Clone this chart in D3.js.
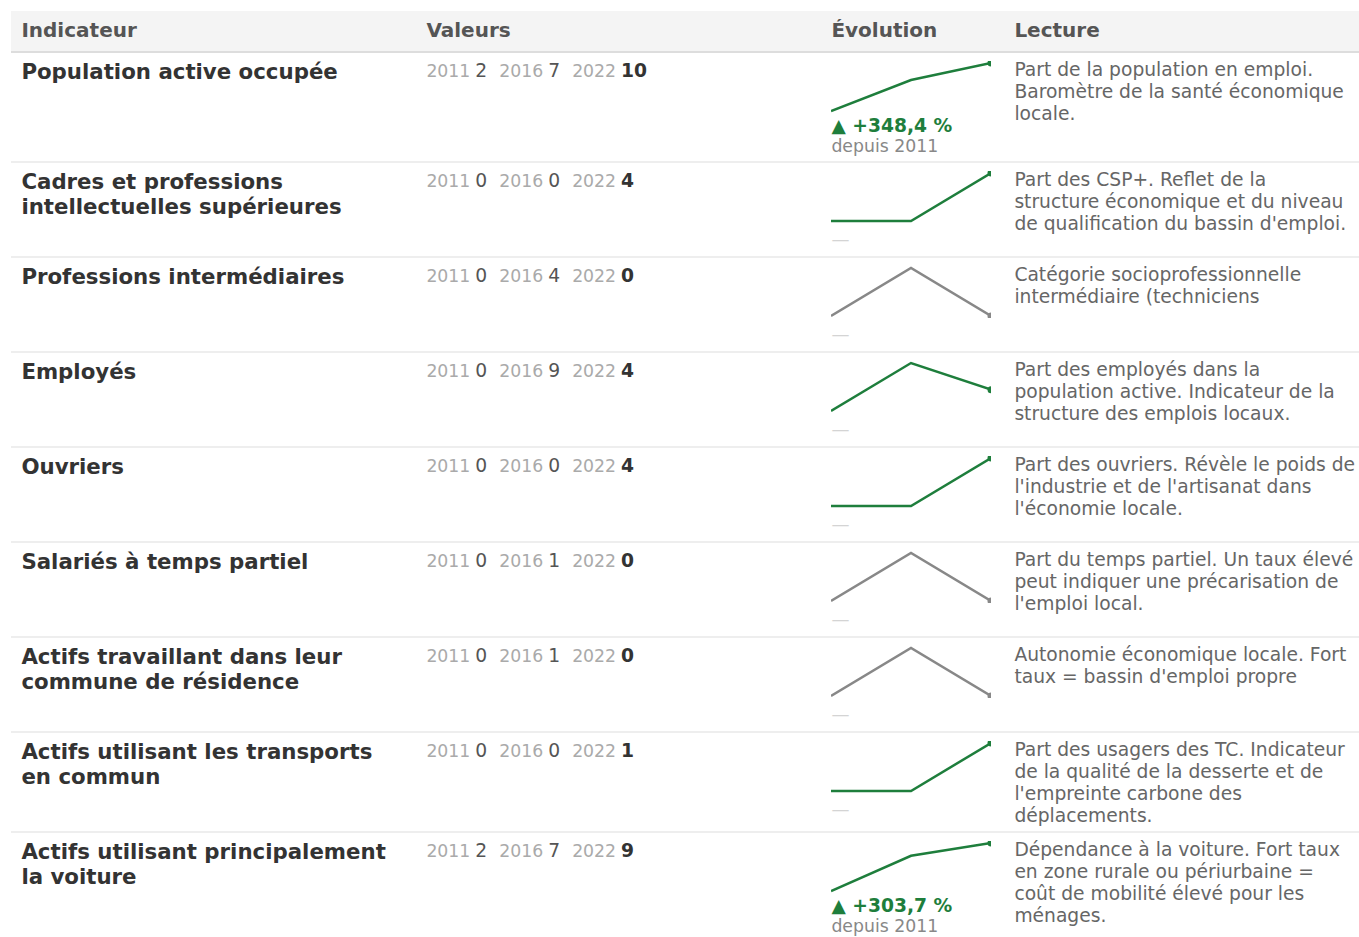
<!DOCTYPE html>
<html lang="fr">
<head>
<meta charset="utf-8">
<script src="https://cdn.jsdelivr.net/npm/d3@7"></script>
<style>
  body { margin: 10.7px 0 0 10.7px; font-family: "DejaVu Sans", sans-serif; background: #fff; overflow: hidden; }
  table { border-collapse: collapse; table-layout: fixed; width: 1356px; }
  th { background: #f4f4f4; color: #555; font-size: 20px; font-weight: bold; text-align: left;
       padding: 7px 10.7px 9px 10.7px; line-height: 24px; border-bottom: 2px solid #ddd; }
  td { vertical-align: top; padding: 8px 10.7px; border-bottom: 2px solid #eee; }
  td.ind { font-size: 21.3px; font-weight: bold; color: #333; line-height: 25px; padding-top: 6px; }
  td.vals { line-height: 25px; white-space: nowrap; padding-top: 5px; }
  .yr { font-size: 17.3px; color: #aaa; margin-right: 5px; }
  .v { font-size: 18.7px; color: #555; margin-right: 12px; }
  .v.last { font-weight: bold; color: #333; }
  td.evo { padding-bottom: 5px; }
  td.evo svg { display: block; }
  .pct { font-size: 18.7px; font-weight: bold; line-height: 20px; margin-top: 3px; }
  .since { font-size: 17.3px; color: #888; line-height: 20px; }
  .dash { font-size: 18px; color: #d4d4d4; line-height: 25px; height: 28px; padding-top: 3px; box-sizing: border-box; }
  td.lect { font-size: 18.7px; color: #666; line-height: 22px; padding-top: 6px; padding-bottom: 4px; }
</style>
</head>
<body>
<table id="tbl"></table>
<script>
const years = ["2011", "2016", "2022"];
const columns = ["Indicateur", "Valeurs", "Évolution", "Lecture"];
const colWidths = [405, 405, 183, 363];

const indicators = [
  "Population active occupée",
  "Cadres et professions intellectuelles supérieures",
  "Professions intermédiaires",
  "Employés",
  "Ouvriers",
  "Salariés à temps partiel",
  "Actifs travaillant dans leur commune de résidence",
  "Actifs utilisant les transports en commun",
  "Actifs utilisant principalement la voiture"
];
const values2011 = [2.2, 0, 0, 0, 0, 0, 0, 0, 2.2];
const values2016 = [7.15, 0, 4, 9, 0, 1, 1, 0, 7.1];
const values2022 = [9.865, 4, 0, 4, 4, 0, 0, 1, 8.881];
const readings = [
  "Part de la population en emploi. Baromètre de la santé économique locale.",
  "Part des CSP+. Reflet de la structure économique et du niveau de qualification du bassin d'emploi.",
  "Catégorie socioprofessionnelle intermédiaire (techniciens",
  "Part des employés dans la population active. Indicateur de la structure des emplois locaux.",
  "Part des ouvriers. Révèle le poids de l'industrie et de l'artisanat dans l'économie locale.",
  "Part du temps partiel. Un taux élevé peut indiquer une précarisation de l'emploi local.",
  "Autonomie économique locale. Fort taux = bassin d'emploi propre",
  "Part des usagers des TC. Indicateur de la qualité de la desserte et de l'empreinte carbone des déplacements.",
  "Dépendance à la voiture. Fort taux en zone rurale ou périurbaine = coût de mobilité élevé pour les ménages."
];

const rows = indicators.map((name, i) => ({
  name: name,
  vals: [values2011[i], values2016[i], values2022[i]],
  text: readings[i]
}));

const fr = d3.formatLocale({ decimal: ",", thousands: "\u00a0", grouping: [3], currency: ["", " €"] });
const fmtPct = fr.format(".1f");

const green = "#1e7e3c", gray = "#888", red = "#c0392b";
const sparkW = 160, sparkH = 52;

const table = d3.select("#tbl");
table.append("colgroup").selectAll("col").data(colWidths).enter().append("col")
  .attr("width", d => d);
table.append("thead").append("tr").selectAll("th").data(columns).enter().append("th")
  .text(d => d);

const tr = table.append("tbody").selectAll("tr").data(rows).enter().append("tr");

tr.append("td").attr("class", "ind").text(d => d.name);

// values
const vals = tr.append("td").attr("class", "vals");
vals.each(function (d) {
  const cell = d3.select(this);
  d.vals.forEach((v, k) => {
    cell.append("span").attr("class", "yr").text(years[k]);
    cell.append("span").attr("class", k === 2 ? "v last" : "v").text(Math.round(v));
  });
});

// sparklines
const x = d3.scalePoint().domain(years).range([0, sparkW]);
const evo = tr.append("td").attr("class", "evo");
evo.each(function (d) {
  const cell = d3.select(this);
  const first = d.vals[0], last = d.vals[2];
  const col = last > first ? green : (last < first ? red : gray);
  const y = d3.scaleLinear().domain(d3.extent(d.vals)).range([sparkH - 2, 2]);
  const pts = d.vals.map((v, k) => [x(years[k]), y(v)]);

  const svg = cell.append("svg").attr("width", sparkW).attr("height", sparkH);
  svg.append("path")
    .attr("d", d3.line()(pts))
    .attr("fill", "none")
    .attr("stroke", col)
    .attr("stroke-width", 2.5);
  svg.append("circle")
    .attr("cx", pts[2][0])
    .attr("cy", pts[2][1])
    .attr("r", 3.5)
    .attr("fill", col);

  if (first > 0) {
    const p = (last - first) / first * 100;
    cell.append("div").attr("class", "pct").style("color", col)
      .text((p >= 0 ? "▲ +" : "▼ ") + fmtPct(p) + " %");
    cell.append("div").attr("class", "since").text("depuis " + years[0]);
  } else {
    cell.append("div").attr("class", "dash").text("—");
  }
});

tr.append("td").attr("class", "lect").text(d => d.text);
</script>
</body>
</html>
